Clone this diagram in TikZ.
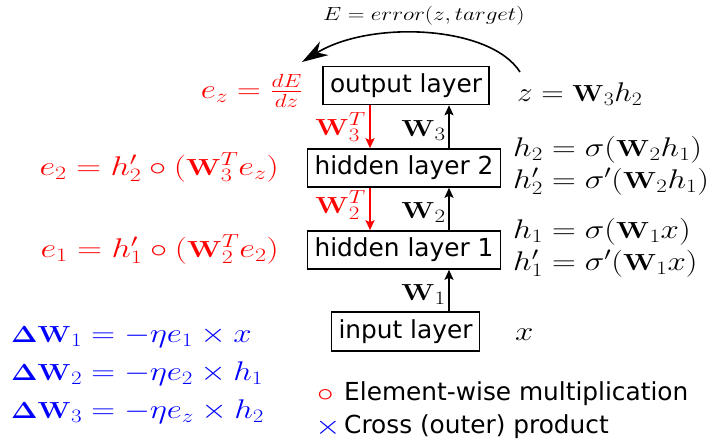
\documentclass[tikz,border=0pt]{standalone}
\usepackage{fix-cm}
\usepackage[no-math]{fontspec}
\newfontfamily\dv{DejaVu Sans}
\usepackage{graphicx}
\usetikzlibrary{arrows.meta}
\newcommand{\mx}[2][1.22]{\scalebox{#1}[1]{$#2$}}
\newcommand{\W}{\mathord{\scalebox{0.86}{$\mathbf{W}$}}}
\newcommand{\DW}{\mathord{\scalebox{0.86}{$\mathbf{\Delta W}$}}}
\begin{document}
\begin{tikzpicture}[x=1pt,y=-1pt,
  layer/.style={draw, line width=1.6pt, font=\dv\fontsize{24.8}{30}\selectfont, inner xsep=7pt, inner ysep=0pt, minimum height=38pt},
  lbl/.style={inner sep=0pt, font=\fontsize{27}{32}\selectfont},
  legtext/.style={inner sep=0pt, anchor=base west, font=\dv\fontsize{24.8}{30}\selectfont},
  fwd/.style={line width=1.8pt, -{Stealth[length=10pt,width=9pt,inset=2pt]}},
  bwd/.style={fwd, red},
]
\useasboundingbox (0,0) rectangle (717,444);

% layers
\node[layer] (out) at (406,85.5) {output layer};
\node[layer] (hid2) at (404,168) {hidden layer 2};
\node[layer] (hid1) at (404,250) {hidden layer 1};
\node[layer, minimum height=39pt] (inp) at (405.5,331.5) {input layer};

% columns of the arrows
\coordinate (cb) at (449,0);
\coordinate (cr) at (370,0);

\draw[fwd] (inp.north -| cb) -- (hid1.south -| cb);
\draw[fwd] (hid1.north -| cb) -- (hid2.south -| cb);
\draw[fwd] (hid2.north -| cb) -- (out.south -| cb);
\draw[bwd] (out.south -| cr) -- (hid2.north -| cr);
\draw[bwd] (hid2.south -| cr) -- (hid1.north -| cr);

% arrow labels
\node[lbl, red, anchor=base east] (w3t) at (366,135) {\mx{\W_3^T}};
\node[lbl, anchor=base east] (w3) at (446,136) {\mx{\W_3}};
\node[lbl, red, anchor=base east] (w2t) at (366,213) {\mx{\W_2^T}};
\node[lbl, anchor=base east] (w2) at (446,218) {\mx{\W_2}};
\node[lbl, anchor=base east] (w1) at (446,300) {\mx{\W_1}};

% forward equations
\node[lbl, anchor=base west] (zeq) at (517,101) {\mx[1.15]{z=\W_3h_2}};
\node[lbl, anchor=base west] (h2eq) at (513,156) {\mx{h_2=\sigma(\W_2h_1)}};
\node[lbl, anchor=base west] (h2peq) at (513,188) {\mx{h_2'=\sigma'(\W_2h_1)}};
\node[lbl, anchor=base west] (h1eq) at (513,238) {\mx{h_1=\sigma(\W_1x)}};
\node[lbl, anchor=base west] (h1peq) at (513,270) {\mx{h_1'=\sigma'(\W_1x)}};
\node[lbl, anchor=base west] (xeq) at (515,340) {\mx{x}};

% backward equations
\node[lbl, red, anchor=base east] (ez) at (303,98) {\mx{e_z=\frac{dE}{dz}}};
\node[lbl, red, anchor=base east] (e2) at (279,175) {\mx[1.27]{e_2=h_2'\circ(\W_3^Te_z)}};
\node[lbl, red, anchor=base east] (e1) at (279,257) {\mx[1.27]{e_1=h_1'\circ(\W_2^Te_2)}};

% updates
\node[lbl, blue, anchor=base west] (d1) at (11,342) {\mx{\DW_1=-\eta e_1\times x}};
\node[lbl, blue, anchor=base west] (d2) at (11,380) {\mx{\DW_2=-\eta e_2\times h_1}};
\node[lbl, blue, anchor=base west] (d3) at (11,418) {\mx{\DW_3=-\eta e_z\times h_2}};

% legend
\node[lbl, red, anchor=base west] (circ) at (317,401) {\mx{\circ}};
\node[legtext] (leg1) at (344,400) {Element-wise multiplication};
\node[lbl, blue, anchor=base west] (cross) at (315,434) {\mx{\times}};
\node[legtext] (leg2) at (344,433) {Cross (outer) product};

% error arrow
\node[lbl, font=\fontsize{19}{23}\selectfont, anchor=base west] (err) at (323,21) {\mx{E=error(z,target)}};
\coordinate (cs) at (520,72);
\coordinate (ce) at (302,62);
\draw[line width=1.6pt, -{Stealth[length=26pt,width=16pt,inset=8pt]}] (cs) .. controls (490,25) and (370,20) .. (ce);
\end{tikzpicture}
\end{document}
